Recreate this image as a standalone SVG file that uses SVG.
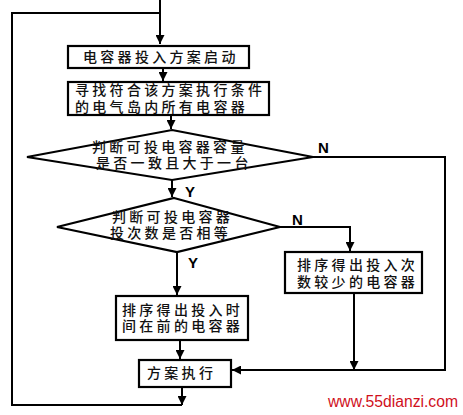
<svg xmlns="http://www.w3.org/2000/svg" width="463" height="415" viewBox="0 0 463 415">
<defs>
<marker id="ah" viewBox="0 0 10 10" refX="10" refY="5" markerWidth="9" markerHeight="9" markerUnits="userSpaceOnUse" orient="auto">
<path d="M0,0 L10,5 L0,10 z" fill="#000"/>
</marker>
<style>
.box{fill:#fff;stroke:#000;stroke-width:2.2}
.ln{fill:none;stroke:#000;stroke-width:2}
.t{font-family:"Liberation Sans","Noto Sans CJK SC","Noto Sans CJK JP",sans-serif;font-size:14px;letter-spacing:3.3px;font-weight:500;fill:#111}
.yn{font-family:"Liberation Sans",Arial,sans-serif;font-size:15px;font-weight:bold;fill:#000}
.wm{font-family:"Liberation Sans",Arial,sans-serif;font-size:16px;fill:#d0101c}
</style>
</defs>
<rect width="463" height="415" fill="#fff"/>
<g id="connectors">
<path class="ln" d="M160,0 V44" marker-end="url(#ah)"/>
<path class="ln" d="M160,13 H12 V405 H182"/>
<path class="ln" d="M163,68 V81" marker-end="url(#ah)"/>
<path class="ln" d="M171,115 V129" marker-end="url(#ah)"/>
<path class="ln" d="M172,180 V197" marker-end="url(#ah)"/>
<path class="ln" d="M313,157 H445 V370 H232" marker-end="url(#ah)"/>
<path class="ln" d="M280,227 H350 V251" marker-end="url(#ah)"/>
<path class="ln" d="M354,293 V370" marker-end="url(#ah)"/>
<path class="ln" d="M177,252 V295" marker-end="url(#ah)"/>
<path class="ln" d="M180,340 V359" marker-end="url(#ah)"/>
<path class="ln" d="M182,387 V405" marker-end="url(#ah)"/>
<text class="yn" x="318" y="153">N</text>
<text class="yn" x="185" y="197">Y</text>
<text class="yn" x="292" y="225">N</text>
<text class="yn" x="188" y="268">Y</text>
</g>
<g id="n1">
<rect class="box" x="68" y="46" width="181" height="22"/>
<text class="t" x="83" y="62">电容器投入方案启动</text>
</g>
<g id="n2">
<rect class="box" x="68" y="82" width="201" height="33"/>
<text class="t"><tspan x="75" y="95">寻找符合该方案执行条件</tspan><tspan x="75" y="112">的电气岛内所有电容器</tspan></text>
</g>
<g id="d1">
<polygon class="box" points="172,130 313,157 172,180 27,157"/>
<text class="t"><tspan x="92" y="152">判断可投电容器容量</tspan><tspan x="96" y="168">是否一致且大于一台</tspan></text>
</g>
<g id="d2">
<polygon class="box" points="174,198 280,227 177,252 57,227"/>
<text class="t"><tspan x="112" y="222">判断可投电容器</tspan><tspan x="110" y="238">投次数是否相等</tspan></text>
</g>
<g id="n3">
<rect class="box" x="285" y="252" width="137" height="41"/>
<text class="t"><tspan x="297" y="270">排序得出投入次</tspan><tspan x="297" y="287">数较少的电容器</tspan></text>
</g>
<g id="n4">
<rect class="box" x="116" y="296" width="132" height="44"/>
<text class="t"><tspan x="122" y="315">排序得出投入时</tspan><tspan x="122" y="331">间在前的电容器</tspan></text>
</g>
<g id="n5">
<rect class="box" x="139" y="360" width="92" height="27"/>
<text class="t" x="147" y="378">方案执行</text>
</g>
<text class="wm" x="328" y="407" textLength="130" lengthAdjust="spacingAndGlyphs">www.55dianzi.com</text>
</svg>
